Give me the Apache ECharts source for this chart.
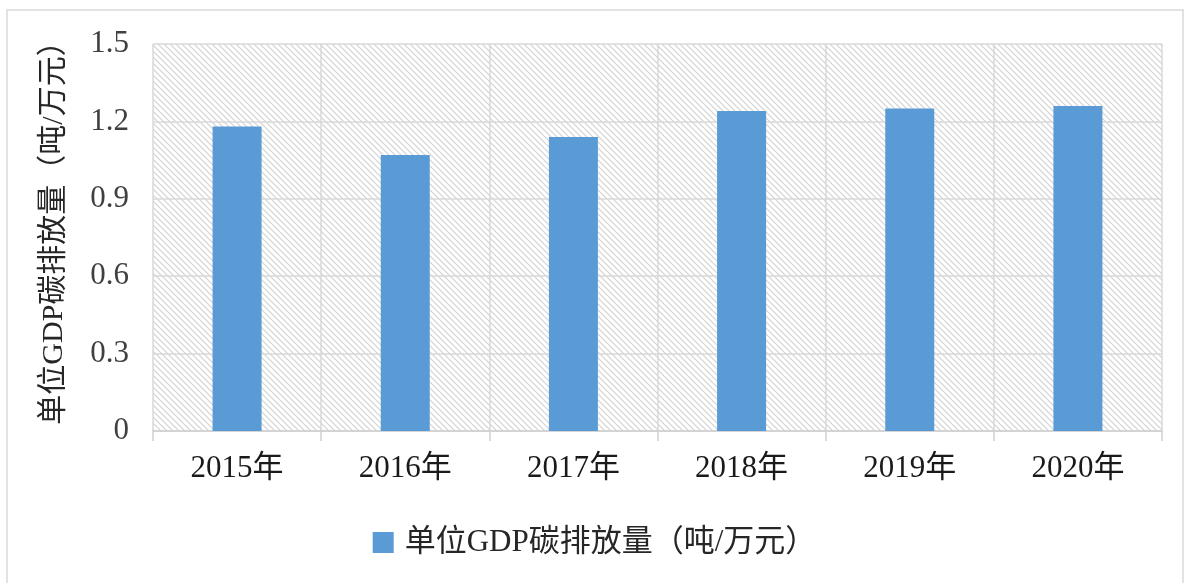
<!DOCTYPE html>
<html>
<head>
<meta charset="utf-8">
<script src="https://cdn.jsdelivr.net/npm/echarts@6/dist/echarts.min.js"></script>
<style>
  html, body { margin: 0; padding: 0; background: #fff; }
  #chart { width: 1189px; height: 583px; }
</style>
</head>
<body>
<div id="chart"></div>
<script>
const years = ['2015年', '2016年', '2017年', '2018年', '2019年', '2020年'];
const carbonPerGdp = [1.18, 1.07, 1.14, 1.24, 1.25, 1.26];
const seriesName = '单位GDP碳排放量（吨/万元）';
const yTicks = [0, 0.3, 0.6, 0.9, 1.2, 1.5];

const serif = '"Liberation Serif", "Noto Sans CJK SC", serif';

// diagonal hatch for the plot background
function hatch() {
  const c = document.createElement('canvas');
  c.width = 6; c.height = 6;
  const ctx = c.getContext('2d');
  ctx.fillStyle = '#ffffff';
  ctx.fillRect(0, 0, 6, 6);
  ctx.strokeStyle = '#d2d2d2';
  ctx.lineWidth = 1.2;
  ctx.beginPath();
  ctx.moveTo(-1, -1); ctx.lineTo(7, 7);
  ctx.moveTo(-4, 2); ctx.lineTo(4, 10);
  ctx.moveTo(2, -4); ctx.lineTo(10, 4);
  ctx.stroke();
  return c;
}

let chartDom = document.getElementById('chart');
let myChart = echarts.init(chartDom, null, {renderer: 'canvas'});
let option = {
  animation: false,
  graphic: [{
    type: 'rect',
    shape: {x: 7, y: 10, width: 1176, height: 600},
    style: {fill: 'none', stroke: '#d9d9d9', lineWidth: 1.5},
    silent: true
  }],
  grid: {
    left: 153,
    right: 27,
    top: 44,
    bottom: 152,
    show: true,
    backgroundColor: {image: hatch(), repeat: 'repeat'},
    borderWidth: 0
  },
  legend: {
    left: 'center',
    top: 522,
    icon: 'rect',
    itemWidth: 21,
    itemHeight: 21,
    textStyle: {fontSize: 31, fontFamily: serif, color: '#262626', padding: [0, 0, 0, 6]},
    data: [seriesName]
  },
  xAxis: {
    type: 'category',
    data: years,
    axisLine: {show: true, lineStyle: {color: '#d0d0d0', width: 1.5}},
    axisTick: {show: true, length: 10, lineStyle: {color: '#d0d0d0', width: 1.5}},
    splitLine: {show: true, lineStyle: {color: '#d9d9d9', width: 1.5}},
    axisLabel: {fontSize: 31, fontFamily: serif, color: '#1a1a1a', margin: 22}
  },
  yAxis: {
    type: 'value',
    min: 0,
    max: 1.5,
    interval: 0.3,
    name: seriesName,
    nameLocation: 'middle',
    nameRotate: 90,
    nameGap: 84,
    nameTextStyle: {fontSize: 30, fontFamily: serif, color: '#262626', padding: [0, 0, 0, 24]},
    axisLine: {show: false},
    axisTick: {show: false},
    splitLine: {show: true, lineStyle: {color: '#d9d9d9', width: 1.5}},
    axisLabel: {
      fontSize: 31,
      fontFamily: serif,
      color: '#404040',
      margin: 24,
      formatter: function (v) {
        const t = yTicks.find(x => Math.abs(x - v) < 1e-6);
        return t === 0 ? '0' : t.toFixed(1);
      }
    }
  },
  series: [{
    name: seriesName,
    type: 'bar',
    data: carbonPerGdp,
    barWidth: 49,
    itemStyle: {color: '#5b9bd5'}
  }]
};
option && myChart.setOption(option);
</script>
</body>
</html>
